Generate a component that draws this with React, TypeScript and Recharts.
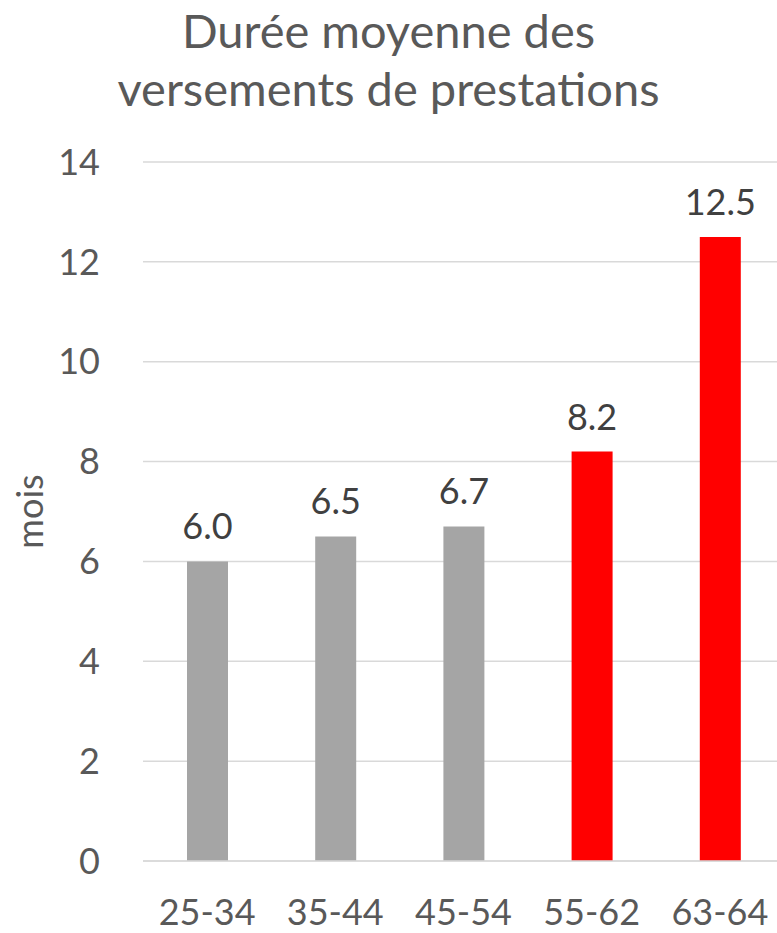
import React from 'react';
import { BarChart, Bar, XAxis, YAxis, CartesianGrid, Cell, LabelList } from 'recharts';

const categories = ['25-34', '35-44', '45-54', '55-62', '63-64'];
const durations = [6.0, 6.5, 6.7, 8.2, 12.5];
const highlighted = ['55-62', '63-64'];
const yTicks = [0, 2, 4, 6, 8, 10, 12, 14];
const titleLines = ['Durée moyenne des', 'versements de prestations'];

const data = categories.map((age, i) => ({ age, value: durations[i] }));

const FONT = 'Lato, "Open Sans", sans-serif';
const TEXT = '#595959';

export default function App() {
  return (
    <div
      style={{
        position: 'absolute',
        left: 0,
        top: 0,
        width: 777,
        height: 933,
        overflow: 'hidden',
        background: '#fff',
        fontFamily: FONT,
      }}
    >
      {/* title */}
      <div
        style={{
          position: 'absolute',
          top: 1,
          left: 0,
          width: 777,
          textAlign: 'center',
          fontSize: 47,
          lineHeight: '58px',
          color: TEXT,
        }}
      >
        {titleLines.map((t) => (
          <div key={t}>{t}</div>
        ))}
      </div>

      <BarChart
        width={790}
        height={933}
        data={data}
        margin={{ top: 162, right: 6, bottom: 0, left: 0 }}
        barSize={41}
      >
        <CartesianGrid vertical={false} stroke="#d9d9d9" strokeWidth={1.5} />
        <XAxis
          dataKey="age"
          height={72}
          tickLine={false}
          tickSize={0}
          tickMargin={38}
          axisLine={{ stroke: '#d9d9d9', strokeWidth: 1.5 }}
          tick={{ fontSize: 36, fill: TEXT, fontFamily: FONT }}
        />
        <YAxis
          width={143}
          domain={[0, 14]}
          ticks={yTicks}
          interval={0}
          axisLine={false}
          tickLine={false}
          tickSize={0}
          tickMargin={43}
          tick={{ fontSize: 36, fill: TEXT, fontFamily: FONT }}
          label={{
            value: 'mois',
            angle: -90,
            position: 'insideLeft',
            offset: 30,
            style: { fontSize: 36, fill: TEXT, fontFamily: FONT, textAnchor: 'middle' },
          }}
        />
        <Bar dataKey="value" isAnimationActive={false}>
          {data.map((d) => (
            <Cell key={d.age} fill={highlighted.includes(d.age) ? '#ff0000' : '#a5a5a5'} />
          ))}
          <LabelList
            dataKey="value"
            position="top"
            offset={22}
            formatter={(v: number) => v.toFixed(1)}
            style={{ fontSize: 36, fill: '#404040', fontFamily: FONT }}
          />
        </Bar>
      </BarChart>
    </div>
  );
}
